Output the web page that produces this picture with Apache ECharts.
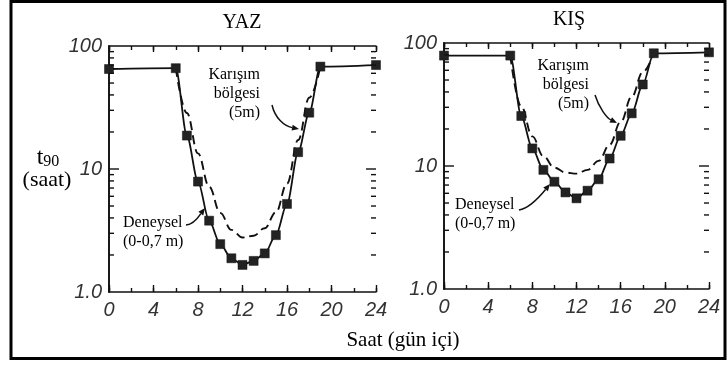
<!DOCTYPE html>
<html>
<head>
<meta charset="utf-8">
<script src="https://cdn.jsdelivr.net/npm/echarts@6/dist/echarts.min.js"></script>
<style>
  html, body { margin: 0; padding: 0; background: #fff; }
  #chart { width: 728px; height: 365px; }
</style>
</head>
<body>
<div id="chart"></div>
<script>
// Hours of the day at which t90 was measured (0-0.7 m depth)
const hoursDeneysel = [0, 6, 7, 8, 9, 10, 11, 12, 13, 14, 15, 16, 17, 18, 19, 24];
// Hours for the mixing-zone (5 m) curve
const hoursKarisim = [6, 7, 8, 9, 10, 11, 12, 13, 14, 15, 16, 17, 18, 19];

// Summer (YAZ)
const yazDeneysel = [65, 66, 18.7, 7.9, 3.8, 2.45, 1.88, 1.66, 1.79, 2.06, 2.9, 5.2, 13.7, 28.7, 68, 70];
const yazKarisim  = [66, 28.5, 13.4, 7.2, 4.4, 3.2, 2.77, 2.87, 3.3, 4.45, 7.6, 17.2, 38, 68];

// Winter (KIŞ)
const kisDeneysel = [79, 79, 25.5, 13.9, 9.3, 7.45, 6.1, 5.46, 6.3, 7.8, 11.5, 17.6, 26.8, 46, 82.5, 84];
const kisKarisim  = [79, 30.4, 17.4, 12.0, 9.7, 8.85, 8.67, 9.3, 11, 14.9, 22.8, 36.6, 58, 82.5];

// Axis ticks
const saatTicks = [0, 4, 8, 12, 16, 20, 24];
const t90Ticks = [1, 10, 100];
const t90TickLabels = ['1.0', '10', '100'];
// log-scale tick marks drawn inside the frame (10 is a long one)
const t90TickMarks = [2, 3, 4, 5, 6, 7, 8, 9, 10, 20, 30, 40, 50, 60, 70, 80, 90];

const panelTitles = ['YAZ', 'KIŞ'];

const INK = '#111';
const LABEL_INK = '#333';
const SERIF = '"Liberation Serif", "Times New Roman", serif';
const SANS = '"Liberation Sans", Arial, sans-serif';

const grids = [
  { left: 109, top: 46, width: 267, height: 246 },
  { left: 444, top: 43, width: 265, height: 246 }
];

const xAxes = [];
const yAxes = [];
grids.forEach((g, gi) => {
  const base = { type: 'value', min: 0, max: 24, gridIndex: gi, splitLine: { show: false } };
  // bottom, labelled, long ticks every 4 h
  xAxes.push(Object.assign({}, base, {
    position: 'bottom', interval: 4,
    axisLine: { show: true, lineStyle: { color: INK, width: 1.6 } },
    axisTick: { show: true, inside: true, length: 7, lineStyle: { color: INK, width: 1.4 } },
    axisLabel: { show: true, margin: 8, fontFamily: SANS, fontStyle: 'italic', fontSize: 20, color: LABEL_INK }
  }));
  // bottom, short ticks every 2 h
  xAxes.push(Object.assign({}, base, {
    position: 'bottom', interval: 2,
    axisLine: { show: false },
    axisTick: { show: true, inside: true, length: 4, lineStyle: { color: INK, width: 1.4 } },
    axisLabel: { show: false }
  }));
  // top, long ticks
  xAxes.push(Object.assign({}, base, {
    position: 'top', interval: 4,
    axisLine: { show: true, lineStyle: { color: INK, width: 1.6 } },
    axisTick: { show: true, inside: true, length: 6, lineStyle: { color: INK, width: 1.4 } },
    axisLabel: { show: false }
  }));
  // top, short ticks
  xAxes.push(Object.assign({}, base, {
    position: 'top', interval: 2,
    axisLine: { show: false },
    axisTick: { show: true, inside: true, length: 4, lineStyle: { color: INK, width: 1.4 } },
    axisLabel: { show: false }
  }));

  const ybase = { type: 'log', logBase: 10, min: 1, max: 100, gridIndex: gi, splitLine: { show: false } };
  // left, labelled
  yAxes.push(Object.assign({}, ybase, {
    position: 'left',
    axisLine: { show: true, lineStyle: { color: INK, width: 1.6 } },
    axisTick: { show: false },
    axisLabel: {
      show: true, customValues: t90Ticks, margin: 7,
      formatter: v => t90TickLabels[t90Ticks.indexOf(Math.round(v))],
      fontFamily: SANS, fontStyle: 'italic', fontSize: 20, color: LABEL_INK
    }
  }));
  // right frame edge
  yAxes.push(Object.assign({}, ybase, {
    position: 'right',
    axisLine: { show: true, lineStyle: { color: INK, width: 1.6 } },
    axisTick: { show: false },
    axisLabel: { show: false }
  }));
});

function pairs(xs, ys) { return xs.map((x, i) => [x, ys[i]]); }

function deneyselSeries(gi, values) {
  return {
    type: 'line', xAxisIndex: gi * 4, yAxisIndex: gi * 2,
    data: pairs(hoursDeneysel, values),
    smooth: 0.3, smoothMonotone: 'x', clip: false,
    symbol: 'rect', symbolSize: 9,
    itemStyle: { color: '#222', borderColor: '#111', borderWidth: 0.5 },
    lineStyle: { color: INK, width: 1.8 },
    z: 3
  };
}
function karisimSeries(gi, values) {
  return {
    type: 'line', xAxisIndex: gi * 4, yAxisIndex: gi * 2,
    data: pairs(hoursKarisim, values),
    smooth: 0.4, smoothMonotone: 'x', clip: false,
    showSymbol: false,
    lineStyle: { color: INK, width: 1.9, type: [9, 5] },
    z: 2
  };
}
// Log tick marks on the left and right frame edges, placed through the y scale
function logTickSeries(gi) {
  return {
    type: 'custom', xAxisIndex: gi * 4, yAxisIndex: gi * 2,
    data: t90TickMarks.map(v => [0, v]),
    encode: { x: 0, y: 1 },
    silent: true, clip: false, z: 4,
    renderItem: (params, api) => {
      const v = api.value(1);
      const len = (v === 10) ? 10 : 5;
      const l = api.coord([0, v]);
      const r = api.coord([24, v]);
      const style = { stroke: INK, lineWidth: 1.4 };
      return {
        type: 'group',
        children: [
          { type: 'line', shape: { x1: l[0], y1: l[1], x2: l[0] + len, y2: l[1] }, style: style },
          { type: 'line', shape: { x1: r[0], y1: r[1], x2: r[0] - len, y2: r[1] }, style: style }
        ]
      };
    }
  };
}

// Annotation arrows (curve + arrowhead)
function arrow(p0, c1, c2, p1) {
  const ang = Math.atan2(p1[1] - c2[1], p1[0] - c2[0]);
  const L = 7, W = 3;
  const bx = p1[0] - L * Math.cos(ang), by = p1[1] - L * Math.sin(ang);
  const nx = -Math.sin(ang) * W, ny = Math.cos(ang) * W;
  return [
    { type: 'bezierCurve', shape: { x1: p0[0], y1: p0[1], cpx1: c1[0], cpy1: c1[1], cpx2: c2[0], cpy2: c2[1], x2: bx, y2: by },
      style: { stroke: INK, lineWidth: 1.5, fill: null }, z: 10 },
    { type: 'polygon', shape: { points: [[p1[0], p1[1]], [bx + nx, by + ny], [bx - nx, by - ny]] },
      style: { fill: INK }, z: 10 }
  ];
}

function textBlock(x, y, lines, align, size) {
  return lines.map((t, i) => ({
    type: 'text', x: x, y: y + i * 19, z: 10,
    style: { text: t, font: size + 'px ' + SERIF, fill: '#000', textAlign: align, textVerticalAlign: 'middle' }
  }));
}

const graphics = [].concat(
  // outer frame
  [{ type: 'rect', shape: { x: 11, y: 1.5, width: 714, height: 357 }, style: { fill: null, stroke: '#000', lineWidth: 3 }, z: 20 }],
  // panel titles
  [{ type: 'text', x: 242, y: 23, style: { text: panelTitles[0], font: '20px ' + SERIF, fill: '#000', textAlign: 'center', textVerticalAlign: 'middle' } },
   { type: 'text', x: 569, y: 20, style: { text: panelTitles[1], font: '20px ' + SERIF, fill: '#000', textAlign: 'center', textVerticalAlign: 'middle' } }],
  // y-axis title
  [{ type: 'text', x: 48, y: 158, style: {
      text: '{t|t}{s|90}', textAlign: 'center', textVerticalAlign: 'middle',
      rich: { t: { fontFamily: SERIF, fontSize: 24, fill: '#000', verticalAlign: 'bottom' },
              s: { fontFamily: SERIF, fontSize: 16, fill: '#000', verticalAlign: 'bottom', padding: [6, 0, 0, 0] } } } },
   { type: 'text', x: 47, y: 180, style: { text: '(saat)', font: '22px ' + SERIF, fill: '#000', textAlign: 'center', textVerticalAlign: 'middle' } }],
  // x-axis title
  [{ type: 'text', x: 403, y: 340, style: { text: 'Saat (gün içi)', font: '21px ' + SERIF, fill: '#000', textAlign: 'center', textVerticalAlign: 'middle' } }],
  // annotations, left panel
  textBlock(260, 75, ['Karışım', 'bölgesi', '(5m)'], 'right', 16),
  arrow([272, 105], [275, 118], [284, 126], [299, 129]),
  textBlock(123, 223, ['Deneysel', '(0-0,7 m)'], 'left', 16),
  arrow([186, 225], [195, 224], [199, 216], [205, 208]),
  // annotations, right panel
  textBlock(589, 66, ['Karışım', 'bölgesi', '(5m)'], 'right', 16),
  arrow([595, 95], [599, 108], [607, 118], [617, 123]),
  textBlock(455, 205, ['Deneysel', '(0-0,7 m)'], 'left', 16),
  arrow([519, 210], [530, 208], [541, 195], [550, 184])
);

const chart = echarts.init(document.getElementById('chart'), null, { renderer: 'canvas' });
chart.setOption({
  animation: false,
  backgroundColor: '#fff',
  grid: grids,
  xAxis: xAxes,
  yAxis: yAxes,
  series: [
    deneyselSeries(0, yazDeneysel),
    karisimSeries(0, yazKarisim),
    logTickSeries(0),
    deneyselSeries(1, kisDeneysel),
    karisimSeries(1, kisKarisim),
    logTickSeries(1)
  ],
  graphic: graphics
});
</script>
</body>
</html>
